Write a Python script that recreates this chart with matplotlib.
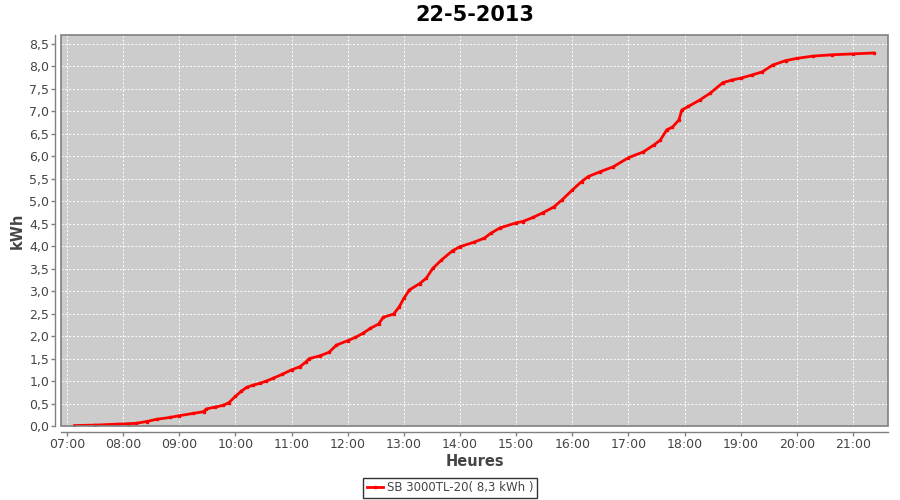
import matplotlib
matplotlib.use("Agg")
import matplotlib.pyplot as plt
from matplotlib.patches import Rectangle

title = "22-5-2013"
series_name = "SB 3000TL-20( 8,3 kWh )"
times = ["07:08", "07:30", "07:53", "08:05", "08:14", "08:25", "08:36", "08:50", "09:00",
         "09:15", "09:26", "09:29", "09:38", "09:47", "09:53", "10:00", "10:06", "10:12",
         "10:19", "10:26", "10:33", "10:40", "10:50", "11:00", "11:09", "11:15", "11:19",
         "11:30", "11:40", "11:48", "12:00", "12:08", "12:16", "12:24", "12:33", "12:38",
         "12:49", "12:55", "13:00", "13:06", "13:17", "13:24", "13:31", "13:40", "13:52",
         "14:00", "14:15", "14:26", "14:33", "14:43", "15:00", "15:07", "15:18", "15:29",
         "15:40", "15:49", "16:00", "16:10", "16:17", "16:30", "16:44", "17:00", "17:16",
         "17:27", "17:34", "17:41", "17:47", "17:54", "17:57", "18:04", "18:16", "18:27",
         "18:41", "18:51", "19:00", "19:12", "19:23", "19:34", "19:48", "20:00", "20:17",
         "20:38", "21:00", "21:22"]
kwh = [0.01, 0.02, 0.04, 0.05, 0.06, 0.10, 0.15, 0.19, 0.23,
       0.28, 0.32, 0.38, 0.42, 0.46, 0.52, 0.66, 0.77, 0.86,
       0.91, 0.95, 1.00, 1.06, 1.15, 1.25, 1.32, 1.42, 1.50,
       1.56, 1.64, 1.80, 1.90, 1.97, 2.06, 2.17, 2.27, 2.42,
       2.49, 2.65, 2.84, 3.03, 3.17, 3.29, 3.51, 3.69, 3.90,
       3.99, 4.09, 4.18, 4.29, 4.41, 4.52, 4.55, 4.64, 4.75,
       4.87, 5.03, 5.25, 5.44, 5.55, 5.66, 5.77, 5.97, 6.10,
       6.25, 6.36, 6.59, 6.65, 6.81, 7.03, 7.11, 7.25, 7.40,
       7.64, 7.70, 7.74, 7.81, 7.88, 8.03, 8.13, 8.18, 8.23,
       8.26, 8.28, 8.30]
xtick_labels = ["07:00", "08:00", "09:00", "10:00", "11:00", "12:00", "13:00", "14:00",
                "15:00", "16:00", "17:00", "18:00", "19:00", "20:00", "21:00"]
ytick_values = [0.0, 0.5, 1.0, 1.5, 2.0, 2.5, 3.0, 3.5, 4.0, 4.5, 5.0, 5.5, 6.0, 6.5, 7.0, 7.5, 8.0, 8.5]

def to_h(s):
    h, m = s.split(":")
    return int(h) + int(m) / 60.0

x = [to_h(t) for t in times]
xt = [to_h(t) for t in xtick_labels]

fig = plt.figure(figsize=(9, 5), dpi=100)
ax = fig.add_axes([61/900, 74/500, 827/900, 391/500])
ax.set_facecolor("#cccccc")
ax.plot(x, kwh, color="#ff0000", lw=2.0, marker="s", ms=2, label=series_name, zorder=3)

ax.set_xlim(7 - 6/56.14, 21 + 35/56.14)
ax.set_ylim(0, 8.70)
ax.set_xticks(xt)
ax.set_xticklabels(xtick_labels)
ax.set_yticks(ytick_values)
ax.set_yticklabels([f"{v:.1f}".replace(".", ",") for v in ytick_values])
ax.grid(True, color="white", ls=(0, (2, 2)), lw=0.7)
ax.set_axisbelow(True)

for s in ["top", "right"]:
    ax.spines[s].set_visible(False)
for s in ["left", "bottom"]:
    ax.spines[s].set_position(("outward", 4))
    ax.spines[s].set_color("#808080")
    ax.spines[s].set_linewidth(1)
ax.add_patch(Rectangle((0, 0), 1, 1, transform=ax.transAxes, fill=False,
                       ec="#808080", lw=1.2, zorder=4, clip_on=False))
ax.tick_params(axis="both", colors="#808080", length=3, width=1, labelcolor="#444444",
               labelsize=9, pad=1.5)

ax.set_title(title, fontsize=15, fontweight="bold", pad=10)
ax.set_xlabel("Heures", fontsize=10.5, color="#444444", fontweight="bold", labelpad=2)
ax.set_ylabel("kWh", fontsize=10.5, color="#444444", fontweight="bold", labelpad=3)

leg = ax.legend(loc="center", bbox_to_anchor=(450/900, 12/500), bbox_transform=fig.transFigure,
                frameon=True, fancybox=False, fontsize=8.5, handlelength=1.4,
                borderpad=0.3, handletextpad=0.3)
leg.get_frame().set_edgecolor("black")
leg.get_frame().set_linewidth(1)
for t in leg.get_texts():
    t.set_color("#444444")

fig.savefig("out.png", dpi=100)
